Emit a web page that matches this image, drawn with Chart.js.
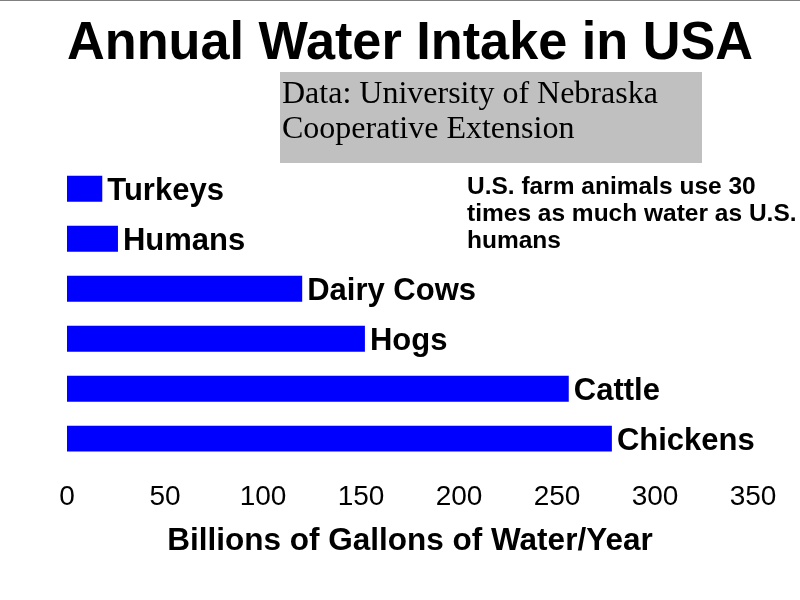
<!DOCTYPE html>
<html>
<head>
<meta charset="utf-8">
<title>Annual Water Intake in USA</title>
<script src="https://cdn.jsdelivr.net/npm/chart.js@4.4.1/dist/chart.umd.min.js"></script>
<style>
    html, body { margin: 0; padding: 0; background: #ffffff; }
    #wrap { width: 800px; height: 600px; }
</style>
</head>
<body>
<div id="wrap"><canvas id="water-chart"></canvas></div>
<script>
// Data (billions of gallons per year)
const categories = ['Turkeys', 'Humans', 'Dairy Cows', 'Hogs', 'Cattle', 'Chickens'];
const gallons = [18, 26, 120, 152, 256, 278];
const xTicks = [0, 50, 100, 150, 200, 250, 300, 350];

const chartTitle = 'Annual Water Intake in USA';
const axisTitle = 'Billions of Gallons of Water/Year';
const sourceLines = ['Data: University of Nebraska', 'Cooperative Extension'];
const noteLines = ['U.S. farm animals use 30', 'times as much water as U.S.', 'humans'];

const SANS = '"Liberation Sans", Arial, sans-serif';
const SERIF = '"Liberation Serif", "Times New Roman", serif';

// Background, frame line, source box and note
const decorPlugin = {
    id: 'decor',
    beforeDraw(chart) {
        const ctx = chart.ctx;
        ctx.save();
        ctx.fillStyle = '#ffffff';
        ctx.fillRect(0, 0, chart.width, chart.height);

        // thin grey frame line at top
        ctx.fillStyle = '#808080';
        ctx.fillRect(0, 0, chart.width, 1);

        // grey source box
        ctx.fillStyle = '#c0c0c0';
        ctx.fillRect(280, 72, 422, 91);
        ctx.fillStyle = '#000000';
        ctx.font = '32px ' + SERIF;
        ctx.textAlign = 'left';
        ctx.textBaseline = 'alphabetic';
        sourceLines.forEach((line, i) => ctx.fillText(line, 282, 103 + i * 35));

        // note text
        ctx.font = 'bold 24.5px ' + SANS;
        noteLines.forEach((line, i) => ctx.fillText(line, 467, 194 + i * 27));
        ctx.restore();
    },
    afterDatasetsDraw(chart) {
        // category name right after each bar
        const ctx = chart.ctx;
        const meta = chart.getDatasetMeta(0);
        ctx.save();
        ctx.fillStyle = '#000000';
        ctx.font = 'bold 31px ' + SANS;
        ctx.textAlign = 'left';
        ctx.textBaseline = 'alphabetic';
        meta.data.forEach((bar, i) => {
            ctx.fillText(categories[i], bar.x + 5, bar.y + 11);
        });
        ctx.restore();
    }
};

const ctx = document.getElementById('water-chart');
new Chart(ctx, {
    type: 'bar',
    data: {
        labels: categories,
        datasets: [{
            data: gallons,
            backgroundColor: '#0000ff',
            borderWidth: 0,
            categoryPercentage: 1,
            barPercentage: 0.52
        }]
    },
    options: {
        indexAxis: 'y',
        responsive: true,
        maintainAspectRatio: false,
        animation: false,
        layout: {
            padding: { left: 67, right: 47, top: 0, bottom: 40 }
        },
        scales: {
            x: {
                min: 0,
                max: 350,
                afterBuildTicks(axis) {
                    axis.ticks = xTicks.map(v => ({ value: v }));
                },
                grid: { display: false, drawTicks: false },
                border: { display: false },
                ticks: {
                    color: '#000000',
                    padding: 17,
                    maxRotation: 0,
                    font: { family: SANS, size: 28 }
                },
                title: {
                    display: true,
                    text: axisTitle,
                    color: '#000000',
                    padding: { top: -9, bottom: 0 },
                    font: { family: SANS, size: 31.5, weight: 'bold' }
                }
            },
            y: {
                display: false
            }
        },
        plugins: {
            legend: { display: false },
            tooltip: { enabled: false },
            title: {
                display: true,
                text: chartTitle,
                color: '#000000',
                padding: { top: 12, bottom: 87 },
                font: { family: SANS, size: 54, weight: 'bold' }
            }
        }
    },
    plugins: [decorPlugin]
});
</script>
</body>
</html>
